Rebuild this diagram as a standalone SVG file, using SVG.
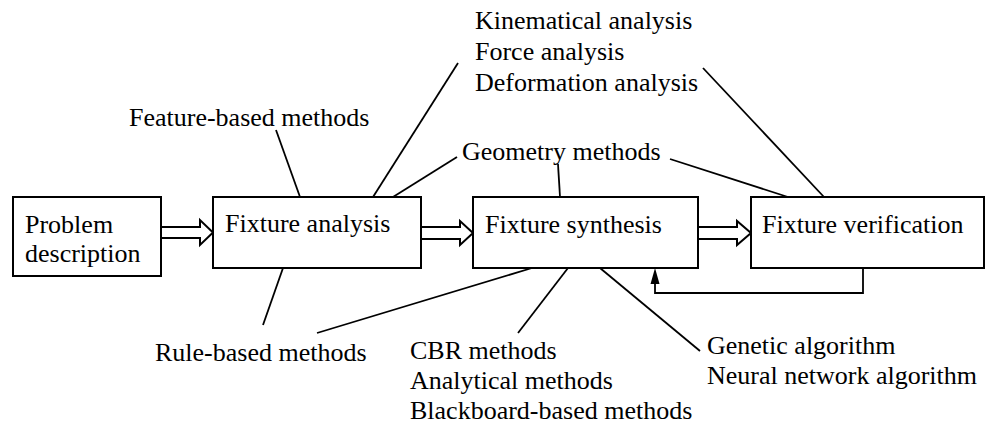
<svg xmlns="http://www.w3.org/2000/svg" width="987" height="426" viewBox="0 0 987 426">
  <style>
    .box { fill: #fff; stroke: #000; stroke-width: 2; }
    .txt { font-family: "Liberation Serif", "Times New Roman", serif; font-size: 26px; fill: #000; }
    .lead { stroke: #000; stroke-width: 1.8; fill: none; }
    .flow { fill: #fff; stroke: #000; stroke-width: 2; stroke-linejoin: miter; }
    .head { fill: #000; stroke: none; }
  </style>

  <g id="connectors">
    <!-- hollow flow arrows between stages -->
    <polygon class="flow" points="161,227 200,227 200,220 213,232.5 200,245 200,238 161,238"/>
    <polygon class="flow" points="421,227 460,227 460,221 473,233 460,245 460,239 421,239"/>
    <polygon class="flow" points="698,227 737,227 737,221 751,233 737,245 737,239 698,239"/>
    <!-- feedback loop from verification back to synthesis -->
    <polyline class="lead" stroke-width="2" points="863,268 863,293 655,293 655,282"/>
    <polygon class="head" points="655,268 650.5,284 659.5,284"/>
    <!-- leader lines to method labels -->
    <line class="lead" x1="276" y1="130" x2="300" y2="197"/>
    <line class="lead" x1="283" y1="268" x2="263" y2="325"/>
    <line class="lead" x1="373" y1="197" x2="458" y2="63"/>
    <line class="lead" x1="393" y1="197" x2="457" y2="157"/>
    <line class="lead" x1="558" y1="164" x2="560" y2="197"/>
    <line class="lead" x1="670" y1="159" x2="788" y2="197"/>
    <line class="lead" x1="703" y1="68" x2="824" y2="197"/>
    <line class="lead" x1="532" y1="268" x2="317" y2="333"/>
    <line class="lead" x1="568" y1="268" x2="518" y2="333"/>
    <line class="lead" x1="600" y1="268" x2="700" y2="351"/>
  </g>

  <g id="problem-description">
    <rect class="box" x="13" y="197" width="148" height="79"/>
    <text class="txt" x="25" y="233">Problem</text>
    <text class="txt" x="25" y="262">description</text>
  </g>

  <g id="fixture-analysis">
    <rect class="box" x="213" y="197" width="208" height="71"/>
    <text class="txt" x="225" y="232">Fixture analysis</text>
  </g>

  <g id="fixture-synthesis">
    <rect class="box" x="473" y="197" width="225" height="71"/>
    <text class="txt" x="485" y="233">Fixture synthesis</text>
  </g>

  <g id="fixture-verification">
    <rect class="box" x="751" y="197" width="233" height="71"/>
    <text class="txt" x="762" y="233">Fixture verification</text>
  </g>

  <g id="labels">
    <text class="txt" x="129" y="126">Feature-based methods</text>
    <text class="txt" x="475" y="29">Kinematical analysis</text>
    <text class="txt" x="475" y="60">Force analysis</text>
    <text class="txt" x="475" y="91">Deformation analysis</text>
    <text class="txt" x="462" y="160">Geometry methods</text>
    <text class="txt" x="155" y="361">Rule-based methods</text>
    <text class="txt" x="410" y="359">CBR methods</text>
    <text class="txt" x="410" y="389">Analytical methods</text>
    <text class="txt" x="410" y="419">Blackboard-based methods</text>
    <text class="txt" x="707" y="354">Genetic algorithm</text>
    <text class="txt" x="707" y="384">Neural network algorithm</text>
  </g>
</svg>
